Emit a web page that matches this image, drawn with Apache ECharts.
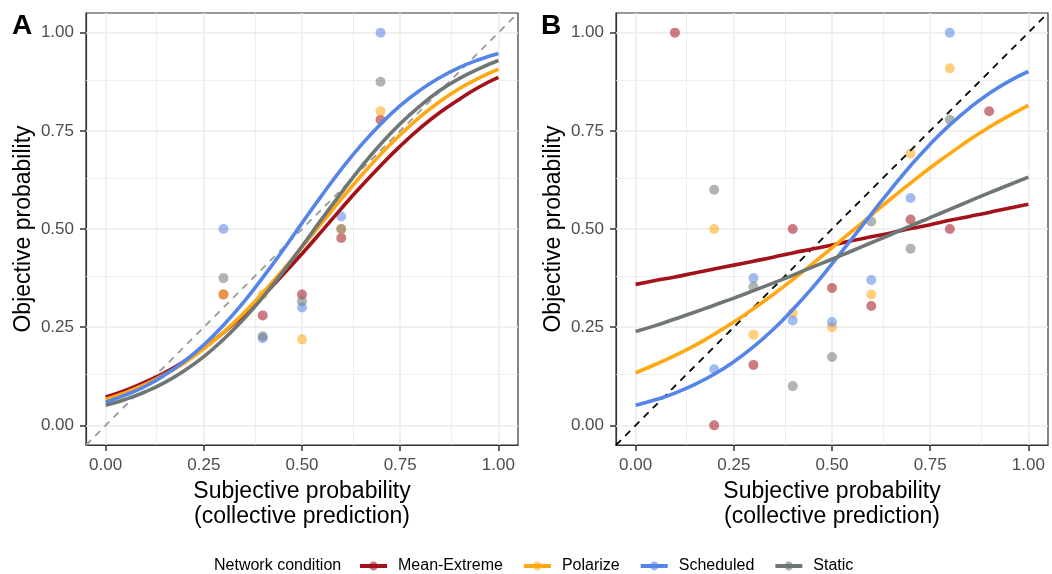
<!DOCTYPE html>
<html>
<head>
<meta charset="utf-8">
<script src="https://cdn.jsdelivr.net/npm/echarts@6/dist/echarts.min.js"></script>
<style>
  html, body { margin: 0; padding: 0; background: #fff; }
  #chart { width: 1052px; height: 574px; }
</style>
</head>
<body>
<div id="chart"></div>
<script>
// Network conditions (legend order)
const conditions = ['Mean-Extreme', 'Polarize', 'Scheduled', 'Static'];
const colors = ['#A3121B', '#FFA812', '#5585E8', '#6F7774'];

// Subjective probabilities at which the fitted curves are sampled
const fitX = [0, 0.05, 0.1, 0.15, 0.2, 0.25, 0.3, 0.35, 0.4, 0.45, 0.5,
              0.55, 0.6, 0.65, 0.7, 0.75, 0.8, 0.85, 0.9, 0.95, 1.0];

// Panel A: fitted calibration curves
const fitA_meanExtreme = [0.072, 0.089, 0.110, 0.134, 0.163, 0.197, 0.236, 0.280, 0.329, 0.382, 0.437,
                          0.494, 0.552, 0.608, 0.661, 0.711, 0.756, 0.796, 0.830, 0.861, 0.886];
const fitA_polarize    = [0.066, 0.083, 0.104, 0.129, 0.159, 0.195, 0.237, 0.284, 0.337, 0.394, 0.454,
                          0.515, 0.576, 0.635, 0.690, 0.740, 0.785, 0.824, 0.857, 0.884, 0.907];
const fitA_scheduled   = [0.059, 0.077, 0.099, 0.128, 0.163, 0.205, 0.255, 0.312, 0.376, 0.444, 0.515,
                          0.585, 0.652, 0.713, 0.767, 0.814, 0.853, 0.885, 0.911, 0.931, 0.947];
const fitA_static      = [0.051, 0.066, 0.085, 0.109, 0.139, 0.175, 0.219, 0.269, 0.326, 0.389, 0.456,
                          0.525, 0.592, 0.657, 0.716, 0.768, 0.813, 0.852, 0.883, 0.908, 0.929];

// Panel A: observed points
const ptsA_x = [0.3, 0.4, 0.5, 0.6, 0.7];
const ptsA_meanExtreme = [0.333, 0.280, 0.333, 0.477, 0.778];
const ptsA_polarize    = [0.333, 0.333, 0.219, 0.500, 0.800];
const ptsA_scheduled   = [0.500, 0.222, 0.300, 0.532, 1.000];
const ptsA_static      = [0.375, 0.227, 0.316, 0.500, 0.875];

// Panel B: fitted calibration curves
const fitB_meanExtreme = [0.359, 0.369, 0.378, 0.388, 0.398, 0.408, 0.418, 0.428, 0.439, 0.449, 0.459,
                          0.470, 0.480, 0.490, 0.501, 0.511, 0.522, 0.532, 0.542, 0.553, 0.563];
const fitB_polarize    = [0.134, 0.155, 0.178, 0.203, 0.232, 0.263, 0.297, 0.333, 0.371, 0.411, 0.452,
                          0.494, 0.535, 0.577, 0.617, 0.656, 0.692, 0.727, 0.759, 0.788, 0.815];
const fitB_scheduled   = [0.051, 0.065, 0.082, 0.104, 0.130, 0.162, 0.200, 0.244, 0.295, 0.350, 0.411,
                          0.474, 0.538, 0.601, 0.661, 0.716, 0.765, 0.808, 0.845, 0.876, 0.901];
const fitB_static      = [0.239, 0.254, 0.271, 0.288, 0.306, 0.324, 0.343, 0.362, 0.382, 0.403, 0.423,
                          0.444, 0.465, 0.486, 0.508, 0.529, 0.550, 0.571, 0.592, 0.612, 0.632];

// Panel B: observed points
const ptsB_meanExtreme_x = [0.1, 0.2, 0.3, 0.4, 0.5, 0.6, 0.7, 0.8, 0.9];
const ptsB_meanExtreme   = [1.000, 0.000, 0.154, 0.500, 0.350, 0.304, 0.524, 0.500, 0.800];
const ptsB_x = [0.2, 0.3, 0.4, 0.5, 0.6, 0.7, 0.8];
const ptsB_polarize  = [0.500, 0.231, 0.286, 0.250, 0.333, 0.692, 0.909];
const ptsB_scheduled = [0.143, 0.375, 0.267, 0.263, 0.370, 0.579, 1.000];
const ptsB_static    = [0.600, 0.353, 0.100, 0.174, 0.519, 0.450, 0.778];

// Axis ticks and gridlines
const tickValues = [0, 0.25, 0.5, 0.75, 1];
const minorValues = [0.125, 0.375, 0.625, 0.875];
const axisMin = -0.05, axisMax = 1.05;

const FONT = '"Liberation Sans", Arial, Helvetica, sans-serif';

const zip = (xs, ys) => xs.map((x, i) => [x, ys[i]]);

function makeAxis(type, idx) {
  const isX = type === 'x';
  return {
    type: 'value',
    gridIndex: idx,
    min: axisMin,
    max: axisMax,
    name: isX ? 'Subjective probability\n(collective prediction)' : 'Objective probability',
    nameLocation: 'middle',
    nameGap: isX ? 33 : 50,
    nameTextStyle: { fontFamily: FONT, fontSize: 23, color: '#000', lineHeight: 25 },
    axisLine: { show: true, onZero: false, lineStyle: { color: '#333', width: 1.2 } },
    axisTick: { show: true, inside: false, length: 6, customValues: tickValues, lineStyle: { color: '#333', width: 1.5 } },
    axisLabel: {
      customValues: tickValues,
      margin: 12,
      fontFamily: FONT, fontSize: 17, color: '#4D4D4D',
      formatter: v => v.toFixed(2)
    },
    splitLine: { show: false }
  };
}

function gridLines(axisKey) {
  const major = tickValues.map(v => ({ [axisKey]: v, lineStyle: { width: 1.5 } }));
  const minor = minorValues.map(v => ({ [axisKey]: v, lineStyle: { width: 0.8 } }));
  return major.concat(minor);
}

function helperSeries(idx, diagColor) {
  return [
    {
      type: 'line', xAxisIndex: idx, yAxisIndex: idx, data: [], silent: true, z: 1,
      markLine: {
        silent: true, symbol: 'none', z: 1, animation: false,
        label: { show: false },
        lineStyle: { color: '#EBEBEB', type: 'solid' },
        data: gridLines('xAxis').concat(gridLines('yAxis'))
      }
    },
    {
      type: 'line', xAxisIndex: idx, yAxisIndex: idx, silent: true, z: 4,
      data: [[axisMin, axisMin], [axisMax, axisMax]],
      symbol: 'none',
      lineStyle: { color: diagColor, width: 1.8, type: [7, 6] }
    }
  ];
}

function panelSeries(idx, fits, pts) {
  const lines = conditions.map((name, i) => ({
    name, type: 'line', xAxisIndex: idx, yAxisIndex: idx,
    data: zip(fitX, fits[i]),
    smooth: true,
    symbol: 'circle', symbolSize: 9, showSymbol: false,
    itemStyle: { color: colors[i], opacity: 0.6 },
    lineStyle: { color: colors[i], width: 3.6 },
    z: 5 + i * 0.1
  }));
  const points = conditions.map((name, i) => ({
    name, type: 'scatter', xAxisIndex: idx, yAxisIndex: idx,
    data: zip(pts[i][0], pts[i][1]),
    symbolSize: 10,
    itemStyle: { color: colors[i], opacity: 0.55 },
    z: 3
  }));
  return lines.concat(points);
}

const chart = echarts.init(document.getElementById('chart'), null, { renderer: 'canvas' });

const option = {
  animation: false,
  backgroundColor: '#fff',
  title: [
    { text: 'A', left: 7, top: 7, textStyle: { fontFamily: FONT, fontSize: 28, fontWeight: 'bold', color: '#000' } },
    { text: 'B', left: 536, top: 7, textStyle: { fontFamily: FONT, fontSize: 28, fontWeight: 'bold', color: '#000' } }
  ],
  graphic: [
    {
      type: 'text', left: 214, top: 558,
      style: { text: 'Network condition', fontFamily: FONT, fontSize: 16, fill: '#000' }
    }
  ],
  legend: {
    data: conditions,
    left: 353, top: 553,
    itemWidth: 27, itemHeight: 11, itemGap: 19,
    lineStyle: { width: 4 },
    textStyle: { fontFamily: FONT, fontSize: 16, color: '#000', padding: [0, 0, 0, 6] },
    selectedMode: false
  },
  grid: [
    { left: 86, right: 534, top: 13, bottom: 129, show: true, borderColor: '#333', borderWidth: 1.2, backgroundColor: '#fff' },
    { left: 616, right: 4, top: 13, bottom: 129, show: true, borderColor: '#333', borderWidth: 1.2, backgroundColor: '#fff' }
  ],
  xAxis: [makeAxis('x', 0), makeAxis('x', 1)],
  yAxis: [makeAxis('y', 0), makeAxis('y', 1)],
  series: [].concat(
    panelSeries(0,
      [fitA_meanExtreme, fitA_polarize, fitA_scheduled, fitA_static],
      [[ptsA_x, ptsA_meanExtreme], [ptsA_x, ptsA_polarize], [ptsA_x, ptsA_scheduled], [ptsA_x, ptsA_static]]),
    panelSeries(1,
      [fitB_meanExtreme, fitB_polarize, fitB_scheduled, fitB_static],
      [[ptsB_meanExtreme_x, ptsB_meanExtreme], [ptsB_x, ptsB_polarize], [ptsB_x, ptsB_scheduled], [ptsB_x, ptsB_static]]),
    helperSeries(0, '#9A9A9A'),
    helperSeries(1, '#000')
  )
};

chart.setOption(option);
</script>
</body>
</html>
